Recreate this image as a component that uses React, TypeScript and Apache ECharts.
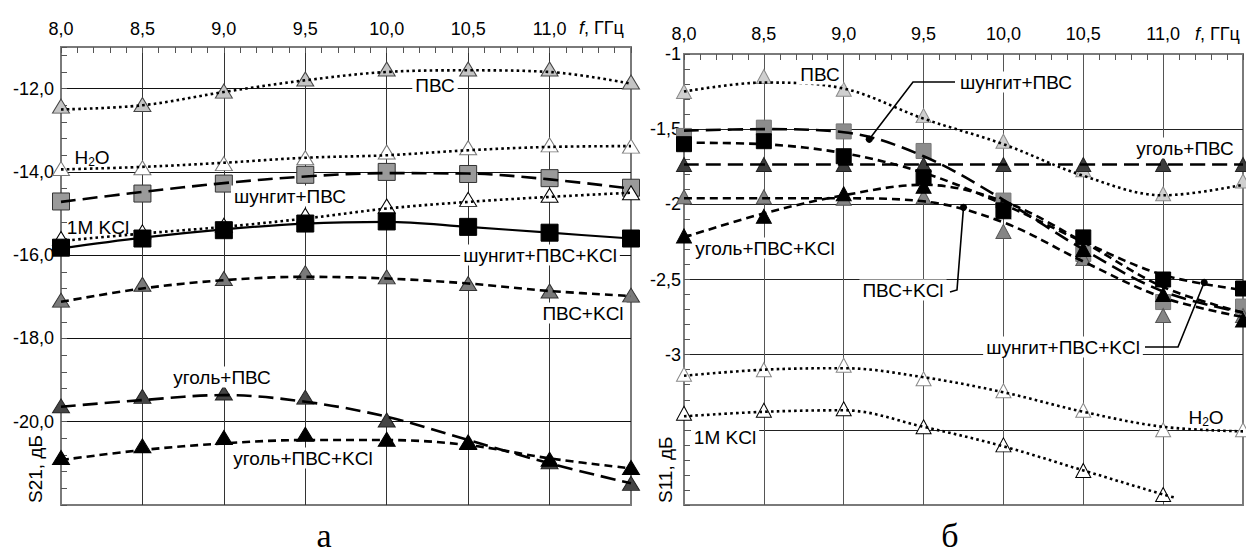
import React, { useEffect, useRef } from 'react';
import * as echarts from 'echarts';

// ---------- DATA ----------
const freqGHz = [8.0, 8.5, 9.0, 9.5, 10.0, 10.5, 11.0, 11.5];
const kclFitFreqB = [8.0, 8.5, 9.0, 9.5, 10.0, 10.5, 11.0, 11.07];

const a_pvs_pts = [-12.42, -12.38, -12.06, -11.77, -11.53, -11.53, -11.53, -11.84];
const a_pvs_fit = [-12.5, -12.4, -12.08, -11.8, -11.6, -11.56, -11.6, -11.88];
const a_h2o_pts = [-13.92, -13.9, -13.8, -13.66, -13.52, -13.42, -13.35, -13.38];
const a_h2o_fit = [-13.94, -13.88, -13.78, -13.66, -13.6, -13.48, -13.4, -13.38];
const a_shPvs_pts = [-14.71, -14.52, -14.28, -14.07, -14.0, -14.05, -14.15, -14.38];
const a_shPvs_fit = [-14.72, -14.48, -14.27, -14.11, -14.03, -14.04, -14.18, -14.4];
const a_kcl_pts = [-15.6, -15.44, -15.28, -15.04, -14.82, -14.66, -14.56, -14.5];
const a_kcl_fit = [-15.66, -15.48, -15.32, -15.12, -14.88, -14.72, -14.6, -14.5];
const a_shPvsKcl_pts = [-15.82, -15.6, -15.4, -15.24, -15.19, -15.32, -15.46, -15.6];
const a_shPvsKcl_fit = [-15.84, -15.58, -15.38, -15.24, -15.2, -15.32, -15.46, -15.6];
const a_pvsKcl_pts = [-17.08, -16.7, -16.56, -16.42, -16.52, -16.68, -16.86, -16.96];
const a_pvsKcl_fit = [-17.12, -16.8, -16.6, -16.52, -16.56, -16.68, -16.86, -16.98];
const a_coalPvs_pts = [-19.62, -19.39, -19.31, -19.41, -19.96, -20.48, -20.96, -21.48];
const a_coalPvs_fit = [-19.64, -19.48, -19.36, -19.52, -19.88, -20.44, -21.0, -21.48];
const a_coalPvsKcl_pts = [-20.86, -20.58, -20.38, -20.3, -20.42, -20.5, -20.9, -21.1];
const a_coalPvsKcl_fit = [-20.92, -20.68, -20.52, -20.44, -20.44, -20.56, -20.88, -21.12];

// Panel б: S11, dB
const b_pvs_pts = [-1.25, -1.15, -1.235, -1.41, -1.58, -1.77, -1.93, -1.845];
const b_pvs_fit = [-1.25, -1.19, -1.23, -1.43, -1.6, -1.81, -1.94, -1.87];
const b_shPvs_pts = [-1.545, -1.49, -1.515, -1.645, -1.975, -2.33, -2.65, -2.68];
const b_shPvs_fit = [-1.51, -1.5, -1.52, -1.68, -1.97, -2.3, -2.58, -2.72];
const b_coalPvs_pts = [-1.735, -1.735, -1.735, -1.735, -1.735, -1.735, -1.735, -1.735];
const b_coalPvs_fit = [-1.735, -1.735, -1.735, -1.735, -1.735, -1.735, -1.735, -1.735];
const b_shPvsKcl_pts = [-1.6, -1.58, -1.68, -1.82, -2.04, -2.22, -2.5, -2.56];
const b_shPvsKcl_fit = [-1.59, -1.6, -1.66, -1.79, -2.0, -2.25, -2.47, -2.57];
const b_pvsKcl_pts = [-1.95, -1.95, -1.96, -1.95, -2.18, -2.36, -2.74, -2.74];
const b_pvsKcl_fit = [-1.96, -1.96, -1.96, -1.98, -2.12, -2.38, -2.62, -2.75];
const b_coalPvsKcl_pts = [-2.21, -2.08, -1.93, -1.88, -2.05, -2.3, -2.6, -2.77];
const b_coalPvsKcl_fit = [-2.22, -2.06, -1.94, -1.87, -1.98, -2.25, -2.55, -2.72];
const b_h2o_pts = [-3.13, -3.1, -3.07, -3.16, -3.24, -3.37, -3.5, -3.5];
const b_h2o_fit = [-3.14, -3.1, -3.09, -3.15, -3.25, -3.38, -3.48, -3.51];
const b_kcl_pts = [-3.39, -3.37, -3.36, -3.48, -3.6, -3.77, -3.93];
const b_kcl_fit = [-3.41, -3.38, -3.37, -3.48, -3.61, -3.77, -3.93, -3.95];

// callout anchor points on curves (panel б), [x GHz, y dB]
const b_callout_shPvs = [9.16, -1.567];
const b_callout_pvsKcl = [9.75, -2.02];
const b_callout_shPvsKcl = [11.257, -2.52];

// ---------- STYLE ----------
const FONT = '"Liberation Sans", Arial, sans-serif';
const SERIF = '"Liberation Serif", "Times New Roman", serif';
const DOT = [2.6, 3.2];
const LONG = [15, 7];
const SHORT = [8, 5];

type Spec = {
  name: string;
  pts: number[];
  fit: number[];
  fitX?: number[];
  symbol: string;
  fill: string;
  stroke: string;
  dash: number[] | 'solid';
  lw?: number;
};

function buildSeries(g: number, specs: Spec[], tri: number[], sq: number) {
  const out: any[] = [];
  specs.forEach((s) => {
    const xs = s.fitX || freqGHz;
    out.push({
      type: 'line',
      name: s.name + ' fit',
      xAxisIndex: g,
      yAxisIndex: g,
      data: s.fit.map((v, i) => [xs[i], v]),
      symbol: 'none',
      showSymbol: false,
      smooth: 0.35,
      silent: true,
      z: 4,
      lineStyle: {
        color: '#000',
        width: s.dash === DOT ? 2.6 : s.lw || 2.6,
        type: s.dash,
      },
    });
    out.push({
      type: 'scatter',
      name: s.name,
      xAxisIndex: g,
      yAxisIndex: g,
      data: s.pts.map((v, i) => [freqGHz[i], v]),
      symbol: s.symbol,
      symbolSize: s.symbol === 'rect' ? sq : tri,
      silent: true,
      z: 3,
      itemStyle: { color: s.fill, borderColor: s.stroke, borderWidth: 1, opacity: 1 },
    });
  });
  return out;
}

const fmt1 = (v: number) => v.toFixed(1).replace('.', ',');
const fmtB = (v: number) => (Number.isInteger(v) ? String(v) : String(v).replace('.', ','));

function xAxisCfg(gridIndex: number, margin: number, color: string) {
  return {
    type: 'value',
    gridIndex,
    position: 'top',
    min: 8,
    max: 11.5,
    interval: 0.5,
    axisLine: { show: false },
    axisTick: { show: true, inside: true, length: 6, lineStyle: { color: '#555', width: 1 } },
    minorTick: { show: true, splitNumber: 5, length: 6, lineStyle: { color: '#555', width: 1 } },
    splitLine: { show: true, showMinLine: false, showMaxLine: false, lineStyle: { color, width: 1 } },
    minorSplitLine: { show: false },
    axisLabel: {
      show: true,
      margin,
      fontSize: 18,
      fontFamily: FONT,
      color: '#000',
      formatter: (v: number) => (v >= 11.5 ? '' : fmt1(v)),
    },
  };
}

function buildOption() {
  const specsA: Spec[] = [
    { name: 'ПВС', pts: a_pvs_pts, fit: a_pvs_fit, symbol: 'triangle', fill: '#c4c4c4', stroke: '#444', dash: DOT },
    { name: 'H2O', pts: a_h2o_pts, fit: a_h2o_fit, symbol: 'triangle', fill: '#fff', stroke: '#777', dash: DOT },
    { name: 'шунгит+ПВС', pts: a_shPvs_pts, fit: a_shPvs_fit, symbol: 'rect', fill: '#9a9a9a', stroke: '#333', dash: LONG },
    { name: '1M KCl', pts: a_kcl_pts, fit: a_kcl_fit, symbol: 'triangle', fill: '#fff', stroke: '#000', dash: DOT },
    { name: 'шунгит+ПВС+KCl', pts: a_shPvsKcl_pts, fit: a_shPvsKcl_fit, symbol: 'rect', fill: '#000', stroke: '#000', dash: 'solid', lw: 2.2 },
    { name: 'ПВС+KCl', pts: a_pvsKcl_pts, fit: a_pvsKcl_fit, symbol: 'triangle', fill: '#7a7a7a', stroke: '#333', dash: SHORT },
    { name: 'уголь+ПВС', pts: a_coalPvs_pts, fit: a_coalPvs_fit, symbol: 'triangle', fill: '#454545', stroke: '#222', dash: LONG },
    { name: 'уголь+ПВС+KCl', pts: a_coalPvsKcl_pts, fit: a_coalPvsKcl_fit, symbol: 'triangle', fill: '#000', stroke: '#000', dash: SHORT },
  ];
  const specsB: Spec[] = [
    { name: 'ПВС', pts: b_pvs_pts, fit: b_pvs_fit, symbol: 'triangle', fill: '#cfcfcf', stroke: '#8a8a8a', dash: DOT },
    { name: 'шунгит+ПВС', pts: b_shPvs_pts, fit: b_shPvs_fit, symbol: 'rect', fill: '#8c8c8c', stroke: '#777', dash: LONG },
    { name: 'уголь+ПВС', pts: b_coalPvs_pts, fit: b_coalPvs_fit, symbol: 'triangle', fill: '#3c3c3c', stroke: '#222', dash: LONG },
    { name: 'шунгит+ПВС+KCl', pts: b_shPvsKcl_pts, fit: b_shPvsKcl_fit, symbol: 'rect', fill: '#000', stroke: '#000', dash: SHORT },
    { name: 'ПВС+KCl', pts: b_pvsKcl_pts, fit: b_pvsKcl_fit, symbol: 'triangle', fill: '#858585', stroke: '#555', dash: SHORT },
    { name: 'уголь+ПВС+KCl', pts: b_coalPvsKcl_pts, fit: b_coalPvsKcl_fit, symbol: 'triangle', fill: '#000', stroke: '#000', dash: SHORT },
    { name: 'H2O', pts: b_h2o_pts, fit: b_h2o_fit, symbol: 'triangle', fill: '#fff', stroke: '#888', dash: DOT },
    { name: '1M KCl', pts: b_kcl_pts, fit: b_kcl_fit, fitX: kclFitFreqB, symbol: 'triangle', fill: '#fff', stroke: '#000', dash: DOT },
  ];

  return {
    animation: false,
    backgroundColor: '#fff',
    grid: [
      { left: 61, top: 47, width: 570, height: 458, show: true, borderColor: '#7a7a7a', borderWidth: 2, backgroundColor: 'transparent', containLabel: false },
      { left: 684, top: 54, width: 561, height: 451, show: true, borderColor: '#7a7a7a', borderWidth: 2, backgroundColor: 'transparent', containLabel: false },
    ],
    xAxis: [xAxisCfg(0, 9, '#333'), xAxisCfg(1, 11, '#555')],
    yAxis: [
      {
        type: 'value',
        gridIndex: 0,
        min: -22,
        max: -11,
        interval: 2,
        axisLine: { show: false },
        axisTick: { show: true, inside: true, length: 6, lineStyle: { color: '#555' } },
        minorTick: { show: true, splitNumber: 5, length: 6, lineStyle: { color: '#555' } },
        splitLine: { show: true, showMinLine: false, showMaxLine: false, lineStyle: { color: '#111', width: 1 } },
        axisLabel: {
          margin: 7,
          fontSize: 18,
          fontFamily: FONT,
          color: '#000',
          formatter: (v: number) => (v > -12 || v <= -22 ? '' : fmt1(v)),
        },
      },
      {
        type: 'value',
        gridIndex: 1,
        min: -4,
        max: -1,
        interval: 0.5,
        axisLine: { show: false },
        axisTick: { show: true, inside: true, length: 6, lineStyle: { color: '#555' } },
        minorTick: { show: true, splitNumber: 5, length: 6, lineStyle: { color: '#555' } },
        splitLine: { show: true, showMinLine: false, showMaxLine: false, lineStyle: { color: '#222', width: 1 } },
        axisLabel: {
          margin: 3,
          fontSize: 18,
          fontFamily: FONT,
          color: '#000',
          formatter: (v: number) => (v < -3 ? '' : fmtB(v)),
        },
      },
    ],
    series: [...buildSeries(0, specsA, [17, 14], 17), ...buildSeries(1, specsB, [15, 14], 15)],
  };
}

function txt(text: string, x: number, y: number, extra: any = {}, bg = true) {
  return {
    type: 'text',
    x,
    y,
    z: 100,
    style: {
      text,
      fontSize: 19,
      fontFamily: FONT,
      fill: '#000',
      align: 'center',
      verticalAlign: 'middle',
      textAlign: 'center',
      textVerticalAlign: 'middle',
      backgroundColor: bg ? '#fff' : undefined,
      padding: bg ? [1, 3] : 0,
      ...extra,
    },
  };
}

function h2o(x: number, y: number) {
  return {
    type: 'text',
    x,
    y,
    z: 100,
    style: {
      text: '{a|H}{b|2}{a|O}',
      align: 'center',
      verticalAlign: 'middle',
      textAlign: 'center',
      textVerticalAlign: 'middle',
      fill: '#000',
      rich: {
        a: { fontSize: 19, fontFamily: FONT, lineHeight: 22, fill: '#000', color: '#000' },
        b: { fontSize: 12, fontFamily: FONT, lineHeight: 9, verticalAlign: 'bottom', fill: '#000', color: '#000' },
      },
    },
  };
}

function buildGraphic(chart: any) {
  const P = (g: number, pt: number[]) => chart.convertToPixel({ gridIndex: g }, pt) as number[];
  const els: any[] = [];

  // axis names
  const fName = (x: number, y: number) => ({
    type: 'text',
    x,
    y,
    z: 100,
    style: {
      text: '{i|f}{n|, ГГц}',
      align: 'left',
      verticalAlign: 'middle',
      textAlign: 'left',
      textVerticalAlign: 'middle',
      rich: {
        i: { fontSize: 18, fontFamily: FONT, fontStyle: 'italic', fill: '#000', color: '#000' },
        n: { fontSize: 18, fontFamily: FONT, fill: '#000', color: '#000' },
      },
    },
  });
  els.push(fName(579, 28));
  els.push(fName(1195, 34));

  const yName = (text: string, x: number, y: number) => ({
    type: 'text',
    x,
    y,
    rotation: Math.PI / 2,
    z: 100,
    style: {
      text,
      fontSize: 19,
      fontFamily: FONT,
      fill: '#000',
      align: 'left',
      verticalAlign: 'middle',
      textAlign: 'left',
      textVerticalAlign: 'middle',
    },
  });
  els.push(yName('S21, дБ', 35, 503));
  els.push(yName('S11, дБ', 665, 503));

  // panel letters
  els.push(txt('а', 324, 535, { fontSize: 34, fontFamily: SERIF }, false));
  els.push(txt('б', 950, 535, { fontSize: 34, fontFamily: SERIF }, false));

  // panel а labels
  els.push(txt('ПВС', 435, 85));
  els.push(h2o(92, 157));
  els.push(txt('шунгит+ПВС', 290, 196));
  els.push(txt('1M KCl', 98, 227, {}, false));
  els.push(txt('шунгит+ПВС+KCl', 540, 255));
  els.push(txt('ПВС+KCl', 583, 313));
  els.push(txt('уголь+ПВС', 222, 377));
  els.push(txt('уголь+ПВС+KCl', 303, 458));

  // panel б labels
  els.push(txt('ПВС', 820, 74));
  els.push(txt('шунгит+ПВС', 1016, 82));
  els.push(txt('уголь+ПВС', 1185, 148));
  els.push(txt('уголь+ПВС+KCl', 765, 248));
  els.push(txt('ПВС+KCl', 903, 290));
  els.push(txt('шунгит+ПВС+KCl', 1063, 347));
  els.push(h2o(1206, 417));
  els.push(txt('1M KCl', 725, 437));

  // callouts (panel б)
  const leader = (anchor: number[], pts: number[][]) => {
    const a = P(1, anchor);
    els.push({
      type: 'polyline',
      z: 101,
      shape: { points: [a, ...pts] },
      style: { stroke: '#000', lineWidth: 1.6, fill: null },
    });
    els.push({ type: 'circle', z: 102, shape: { cx: a[0], cy: a[1], r: 3.6 }, style: { fill: '#000' } });
  };
  leader(b_callout_shPvs, [[913, 82], [955, 82]]);
  leader(b_callout_pvsKcl, [[957, 290], [950, 292]]);
  leader(b_callout_shPvsKcl, [[1178, 347], [1145, 347]]);

  return els;
}

export default function App() {
  const ref = useRef<HTMLDivElement>(null);
  useEffect(() => {
    if (!ref.current) return;
    const chart = echarts.init(ref.current, undefined, { renderer: 'svg', width: 1246, height: 554 });
    chart.setOption(buildOption() as any);
    chart.setOption({ graphic: buildGraphic(chart) } as any);
    return () => chart.dispose();
  }, []);
  return (
    <div
      ref={ref}
      style={{ position: 'absolute', left: 0, top: 0, width: 1246, height: 554, background: '#fff' }}
    />
  );
}
